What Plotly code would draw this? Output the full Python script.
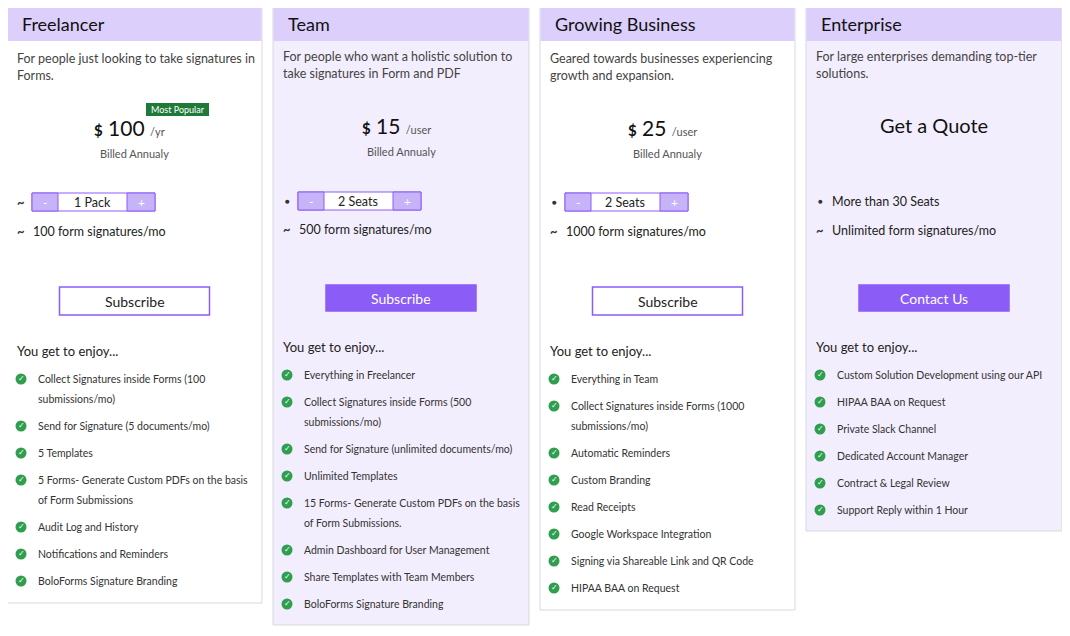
import plotly.graph_objects as go

plans = ["Freelancer", "Team", "Growing Business", "Enterprise"]
descs = ["For people just looking to take signatures in<br>Forms.",
         "For people who want a holistic solution to<br>take signatures in Form and PDF",
         "Geared towards businesses experiencing<br>growth and expansion.",
         "For large enterprises demanding top-tier<br>solutions."]
prices = ["100", "15", "25", None]
units = ["/yr", "/user", "/user", None]
steppers = ["1 Pack", "2 Seats", "2 Seats", None]
seat_text = [None, None, None, "More than 30 Seats"]
sigs = ["100 form signatures/mo", "500 form signatures/mo", "1000 form signatures/mo", "Unlimited form signatures/mo"]
buttons = ["Subscribe", "Subscribe", "Subscribe", "Contact Us"]
features = [
    ["Collect Signatures inside Forms (100<br>submissions/mo)", "Send for Signature (5 documents/mo)", "5 Templates",
     "5 Forms- Generate Custom PDFs on the basis<br>of Form Submissions", "Audit Log and History",
     "Notifications and Reminders", "BoloForms Signature Branding"],
    ["Everything in Freelancer", "Collect Signatures inside Forms (500<br>submissions/mo)",
     "Send for Signature (unlimited documents/mo)", "Unlimited Templates",
     "15 Forms- Generate Custom PDFs on the basis<br>of Form Submissions.", "Admin Dashboard for User Management",
     "Share Templates with Team Members", "BoloForms Signature Branding"],
    ["Everything in Team", "Collect Signatures inside Forms (1000<br>submissions/mo)", "Automatic Reminders",
     "Custom Branding", "Read Receipts", "Google Workspace Integration", "Signing via Shareable Link and QR Code",
     "HIPAA BAA on Request"],
    ["Custom Solution Development using our API", "HIPAA BAA on Request", "Private Slack Channel",
     "Dedicated Account Manager", "Contract & Legal Review", "Support Reply within 1 Hour"],
]

card_x = [7, 273, 540, 806]
card_w = [255, 256, 255, 256]
card_bottom = [603, 625, 610, 531]
dy = [0, -2, 0, -2]
light = [False, True, False, True]
filled_btn = [False, True, False, True]

PURPLE = "#8b5cf6"
HEAD = "#dccffb"
BODY = "#f3eefe"
GREEN = "#2f9e4f"
TXT = "#333333"
FONT = "Lato"
OFF = 8

shapes, ann = [], []
cx_pts, cy_pts = [], []

def text(x, y, s, size=12, color=TXT, xanchor="left"):
    ann.append(dict(x=x, y=y, text=s, showarrow=False, xanchor=xanchor, yanchor="middle",
                    font=dict(size=size, color=color, family=FONT), align="left"))

def rect(x0, x1, y0, y1, fill, line=None):
    shapes.append(dict(type="rect", x0=x0, x1=x1, y0=y0, y1=y1, fillcolor=fill, layer="below",
                       line=line or dict(width=0)))

for i, p in enumerate(plans):
    x0 = card_x[i]; x1 = x0 + card_w[i]; c = (x0 + x1) / 2; d = dy[i]
    rect(x0, x1, 6, card_bottom[i], BODY if light[i] else "white", dict(color="#d9d9e0", width=1))
    rect(x0 + 0.5, x1 - 0.5, 6.5, 41, HEAD)
    text(x0 + 13, 24, p, size=18, color="#111")
    for k, ln in enumerate(descs[i].split("<br>")):
        text(x0 + 8, 58 + d + 17 * k, ln, size=12.5, color="#444")
    if prices[i]:
        text(c - 5, 127 + d, "<span style='font-size:15px'><b>$</b></span> " + prices[i] +
             " <span style='font-size:11px;color:#555'>" + units[i] + "</span>", size=21, color="#111", xanchor="center")
        text(c, 153 + d, "Billed Annualy", size=11, color="#555", xanchor="center")
    else:
        text(c, 125, "Get a Quote", size=20, color="#111", xanchor="center")
    if i == 0:
        shapes.append(dict(type="rect", x0=146, x1=209, y0=103, y1=116, fillcolor="#1f7a3a",
                           line=dict(width=0), layer="below"))
        text(177.5, 109.5, "Most Popular", size=9, color="white", xanchor="center")
    sy = 202 + (-1 if i == 1 else 0)
    bx = x0 + 25
    if steppers[i]:
        rect(bx, bx + 123, sy - 9, sy + 9, "white", dict(color=PURPLE, width=1))
        rect(bx, bx + 26, sy - 9, sy + 9, "#c6b3f8", dict(color=PURPLE, width=1))
        rect(bx + 95, bx + 123, sy - 9, sy + 9, "#c6b3f8", dict(color=PURPLE, width=1))
        text(bx + 13, sy, "-", size=12, color="white", xanchor="center")
        text(bx + 109, sy, "+", size=12, color="white", xanchor="center")
        text(bx + 60, sy, steppers[i], size=12.5, color="#222", xanchor="center")
        icon = "~" if i == 0 else "●"
        text(x0 + 14, sy, "<b>" + icon + "</b>", size=13 if i == 0 else 8, color="#333", xanchor="center")
    else:
        text(x0 + 14, 201, "●", size=8, color="#333", xanchor="center")
        text(x0 + 24, 201, seat_text[i], size=12.5, color="#222")
    sgy = 231 + (-2 if i == 1 else 0) + (-1 if i == 3 else 0)
    text(x0 + 14, sgy, "<b>~</b>", size=13, color="#333", xanchor="center")
    text(x0 + 24, sgy, sigs[i], size=12.5, color="#222")
    by0, by1 = (285, 311) if filled_btn[i] else (287, 315)
    rect(c - 75, c + 75, by0, by1, PURPLE if filled_btn[i] else "white", dict(color=PURPLE, width=1.5))
    text(c, (by0 + by1) / 2, buttons[i], size=14, color="white" if filled_btn[i] else "#222", xanchor="center")
    text(x0 + 8, 351 + d * 2, "You get to enjoy...", size=13, color="#222")
    y = 379 + d * 2
    for f in features[i]:
        lines = f.split("<br>")
        cx_pts.append(x0 + 14); cy_pts.append(y)
        for k, ln in enumerate(lines):
            text(x0 + 29, y + 20 * k, ln, size=10.5, color="#333")
        y += 27 + 20 * (len(lines) - 1)

fig = go.Figure()
fig.add_trace(go.Scatter(x=cx_pts, y=cy_pts, mode="markers+text", text=["✓"] * len(cx_pts),
                         textposition="middle center", textfont=dict(color="white", size=8),
                         marker=dict(size=11, color=GREEN), hoverinfo="skip"))
fig.update_layout(width=1070, height=636, margin=dict(l=0, r=0, t=0, b=0),
                  plot_bgcolor="white", paper_bgcolor="white", showlegend=False,
                  shapes=shapes, annotations=ann,
                  xaxis=dict(range=[OFF, 1070 + OFF], visible=False, fixedrange=True),
                  yaxis=dict(range=[636 + OFF, OFF], visible=False, fixedrange=True))
fig.write_html("out.html")
